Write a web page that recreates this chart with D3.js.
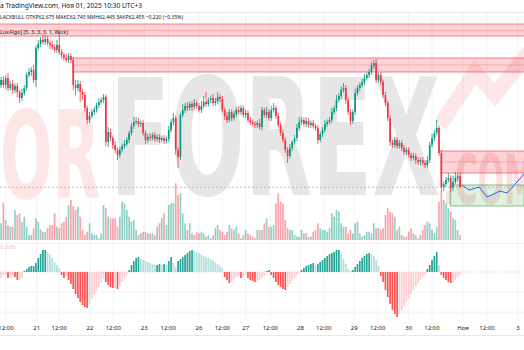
<!DOCTYPE html>
<html>
<head>
<meta charset="utf-8">
<script src="https://cdn.jsdelivr.net/npm/d3@7"></script>
<style>
body { margin: 0; background: #fff; }
svg text { font-family: "Noto Sans", Roboto, sans-serif; }
</style>
</head>
<body>
<div id="chart"></div>
<script>
// ---- data ----
var firstOpen = 64.50;
var close = [
 64.60,64.50,64.64,64.44,64.52,64.40,64.48,64.36,64.24,64.34,
 64.44,64.70,64.76,64.80,64.60,65.24,65.32,65.40,65.36,65.42,
 65.34,65.30,65.26,65.20,65.30,65.16,65.10,65.04,65.00,65.08,
 65.00,64.50,64.44,64.52,64.36,64.30,64.04,63.80,63.88,63.96,
 64.00,64.10,64.16,64.20,64.26,63.36,63.56,63.44,63.30,63.20,
 63.10,63.20,63.28,63.32,63.40,63.54,63.68,63.76,63.78,63.72,
 63.74,63.54,63.40,63.46,63.44,63.50,63.42,63.46,63.40,63.44,
 63.38,63.42,63.60,63.76,63.84,63.20,63.06,63.90,64.00,64.08,
 64.04,64.12,64.06,64.14,64.08,64.00,64.08,64.16,64.12,64.20,
 64.24,64.14,64.18,64.26,64.22,64.00,63.88,63.80,63.96,63.84,
 63.92,64.00,63.96,64.04,63.90,63.94,63.80,63.76,63.72,63.70,
 63.74,63.66,64.00,63.90,63.96,63.84,64.00,64.04,63.88,63.70,
 63.54,63.40,63.20,63.08,63.24,63.36,63.44,63.64,63.76,63.80,
 63.72,63.78,63.70,63.74,63.68,63.64,63.40,63.52,63.60,63.72,
 63.76,63.80,63.96,64.04,64.20,64.28,64.40,64.44,64.20,63.96,
 63.78,63.96,64.34,64.44,64.50,64.56,64.64,64.70,64.76,64.88,
 64.94,64.60,64.70,64.56,64.30,64.14,63.84,63.36,63.30,63.40,
 63.28,63.34,63.24,63.16,63.20,63.10,63.04,63.08,63.00,62.96,
 63.00,62.94,62.90,63.00,63.30,63.44,63.54,63.64,63.14,62.46,
 62.52,62.60,62.64,62.44,62.56,62.64,62.675,62.455
];
var wickUp = [
 .06,.08,.05,.10,.06,.08,.05,.06,.04,.08, .06,.05,.08,.06,.10,.05,.08,.06,.10,.08,
 .06,.05,.08,.06,.10,.26,.06,.05,.08,.06, .05,.06,.10,.08,.06,.05,.06,.05,.08,.06,
 .06,.05,.08,.05,.06,.05,.10,.06,.05,.08, .05,.06,.05,.08,.06,.05,.06,.10,.08,.06,
 .05,.06,.05,.06,.08,.05,.06,.05,.06,.05, .06,.05,.08,.06,.10,.05,.06,.05,.12,.06,
 .08,.05,.06,.08,.05,.06,.10,.12,.20,.06, .05,.08,.06,.10,.05,.06,.05,.08,.06,.05,
 .06,.05,.08,.06,.05,.06,.05,.06,.05,.06, .05,.08,.06,.05,.10,.06,.08,.10,.05,.06,
 .05,.06,.05,.06,.08,.05,.06,.08,.10,.06, .05,.08,.06,.05,.06,.05,.06,.05,.06,.08,
 .05,.06,.08,.05,.10,.06,.08,.10,.06,.05, .06,.05,.08,.06,.05,.06,.08,.05,.06,.08,
 .06,.08,.05,.06,.05,.06,.05,.06,.05,.06, .05,.06,.05,.06,.05,.06,.05,.06,.05,.06,
 .05,.06,.05,.08,.06,.08,.06,.16,.05,.06, .05,.06,.10,.06,.12,.12,.05,.07
];
var wickDn = [
 .06,.05,.08,.06,.05,.08,.06,.10,.10,.06, .05,.06,.05,.08,.06,.14,.05,.06,.05,.06,
 .05,.08,.06,.05,.06,.05,.08,.06,.05,.06, .06,.10,.15,.06,.20,.10,.06,.08,.06,.05,
 .06,.05,.06,.05,.06,.08,.10,.06,.08,.06, .10,.06,.05,.06,.05,.06,.05,.06,.05,.06,
 .06,.05,.08,.05,.06,.05,.06,.05,.06,.05, .06,.05,.06,.05,.06,.10,.22,.06,.05,.06,
 .06,.05,.08,.05,.06,.05,.06,.05,.06,.05, .06,.05,.06,.05,.06,.05,.08,.06,.05,.06,
 .05,.06,.05,.06,.05,.06,.05,.06,.05,.06, .06,.05,.06,.05,.06,.05,.06,.05,.06,.05,
 .06,.05,.06,.14,.05,.06,.05,.06,.05,.06, .05,.06,.05,.06,.05,.06,.08,.05,.06,.05,
 .06,.05,.06,.05,.06,.05,.06,.05,.08,.06, .08,.05,.06,.05,.06,.05,.06,.05,.06,.05,
 .05,.06,.05,.06,.05,.06,.06,.08,.06,.05, .06,.05,.06,.05,.06,.05,.06,.05,.08,.06,
 .06,.05,.06,.05,.06,.05,.06,.05,.06,.10, .08,.06,.05,.08,.06,.05,.06,.01
];
var volume = [
 167,373,200,150,133,133,300,250,267,183, 233,133,50,50,117,217,183,107,83,83,
 117,150,150,267,133,117,167,183,233,350, 400,340,300,333,233,100,50,83,167,67,
 50,50,17,67,350,317,233,217,217,217, 133,233,383,367,300,233,183,200,100,50,
 67,83,83,67,67,67,50,133,167,217, 267,150,350,367,367,567,450,467,267,167,
 100,167,67,50,83,67,83,67,33,50, 17,50,117,150,100,83,50,83,150,117,
 100,133,67,17,50,100,67,50,33,17, 100,100,
 100,167,217,133,133,150,367,467,383,367, 200,117,100,100,50,33,33,100,67,67,
 33,33,83,100,167,117,100,100,83,117, 267,233,300,283,167,133,133,67,100,67,
 167,183,67,33,50,83,83,67,167,117, 117,100,117,250,317,283,267,233,100,133,
 50,33,33,83,117,67,50,17,50,100, 150,183,167,100,67,133,383,483,400,367,
 317,283,217,200,100,50
];
var hist = [
 -1.2,-0.6,-0.6,-1.2,-1.2,-0.6,-1.0,-1.6,-1.6,-1.2,
 0.2,0.6,1.0,1.2,1.2,1.8,2.8,3.6,4.4,4.4,
 4.0,3.4,2.8,2.0,1.4,0.8,-0.6,-1.2,-0.8,-1.6,
 -2.4,-3.4,-4.4,-5.2,-6.0,-6.6,-7.0,-7.2,-6.4,-5.4,
 -4.6,-3.8,-3.0,-2.2,-1.4,-2.0,-2.6,-3.0,-3.2,-3.2,
 -3.4,-2.8,-2.0,-1.2,-0.6,0.4,1.4,2.2,2.8,3.0,
 2.6,2.4,2.2,2.0,1.8,1.6,1.4,1.4,1.6,1.4,
 1.6,1.4,2.2,3.0,1.8,1.0,2.2,2.6,3.0,3.4,
 3.8,4.2,4.4,4.2,4.0,3.8,3.5,3.2,3.0,2.8,
 2.5,2.2,1.9,1.6,1.2,0.8,-1.0,-1.6,-2.2,-2.0,
 -1.4,-1.0,-0.8,-1.2,-1.0,-0.6,-1.2,-1.6,-1.8,-2.0,
 -2.0,-1.6,-1.2,-0.8,0.2,0.4,-0.6,-1.2,-2.0,-2.6,
 -3.0,-3.4,-3.6,-3.0,-2.4,-1.8,-1.2,-0.6,-0.2,0.4,
 0.8,1.2,1.4,1.6,1.8,1.4,1.6,2.0,2.4,2.8,
 3.2,3.6,3.8,4.0,4.4,4.4,3.6,2.6,1.6,0.6,
 0.2,0.4,1.0,1.6,2.2,2.8,3.2,3.6,3.8,3.6,
 3.2,2.4,1.2,-0.8,-2.0,-3.6,-5.0,-6.4,-7.6,-8.4,
 -9.0,-8.4,-7.6,-6.8,-6.0,-5.2,-4.4,-3.6,-2.8,-2.2,
 -1.6,-1.0,-0.4,0.6,1.4,2.4,3.2,4.0,1.4,-0.6,
 -1.2,-1.6,-2.0,-2.2,-2.2,-1.6,-1.0,-0.6
];

// supply / demand zones (price top, bottom, middle line, first bar)
var zoneTop = [65.72, 65.04, 63.18];
var zoneBot = [65.48, 64.76, 62.74];
var zoneMid = [65.59, 64.90, 62.96];
var zoneStart = [-1, 30.5, 188.5];
var greenTop = 62.50, greenBot = 62.08, greenStart = 192.8;

// projection line
var fcIdx = [197.7, 201, 205.2, 208.6, 214.2, 217.2, 224.5];
var fcPrice = [62.50, 62.40, 62.46, 62.26, 62.38, 62.34, 62.72];

var lastPrice = 62.455;

var tickIdx = [2.1, 15.3, 25.0, 38.2, 48.2, 61.5, 71.8, 85.0, 95.0, 105.0, 115.6, 128.5, 138.5, 151.6, 161.7, 175.0, 185.0, 198.3, 208.6, 221.9];
var tickLabels = ["12:00","21","12:00","22","12:00","23","12:00","26","12:00","27","12:00","28","12:00","29","12:00","30","12:00","Ноя","12:00","3"];

var headerLine1 = "a TradingView.com, Ноя 01, 2025 10:30 UTC+3";
var headerLine2 = "LACKBULL  ОТКР62,675  МАКС62,745  МИН62,445  ЗАКР62,455  −0,220 (−0,35%)";
var indicatorLabel = "LuxAlgo] (5, 3, 3, 3, 1, Wick)";

// ---- drawing ----
var W = 524, H = 350;
var upCol = "#089981", dnCol = "#f23645";

var svg = d3.select("#chart").append("svg")
    .attr("width", W)
    .attr("height", H);

svg.append("rect").attr("width", W).attr("height", H).attr("fill", "#fff");

var x = d3.scaleLinear().domain([0, 197]).range([1, 460]);
var y = d3.scaleLinear().domain([61.4, 66.2]).range([240, 0]);
var yv = d3.scaleLinear().domain([0, 600]).range([240, 180]);
var yh = d3.scaleLinear().domain([-10, 6]).range([322, 242]);

var bars = close.map(function(c, i) {
    var o = i == 0 ? firstOpen : close[i - 1];
    return {
        i: i, o: o, c: c,
        h: Math.max(o, c) + wickUp[i],
        l: Math.min(o, c) - wickDn[i],
        v: volume[i],
        m: hist[i],
        mp: i == 0 ? hist[0] : hist[i - 1]
    };
});

// grid
var grid = svg.append("g");
grid.selectAll("line.v")
    .data(tickIdx)
    .enter().append("line")
    .attr("x1", function(d) { return x(d); })
    .attr("x2", function(d) { return x(d); })
    .attr("y1", 12).attr("y2", 321)
    .attr("stroke", "#f1f2f4").attr("stroke-width", 1);
grid.selectAll("line.h")
    .data([-4, -8])
    .enter().append("line")
    .attr("x1", 0).attr("x2", W)
    .attr("y1", function(d) { return yh(d); })
    .attr("y2", function(d) { return yh(d); })
    .attr("stroke", "#f1f2f4");
svg.append("line").attr("x1", 0).attr("x2", W).attr("y1", 12.5).attr("y2", 12.5).attr("stroke", "#e6e8ee");
svg.append("line").attr("x1", 0).attr("x2", W).attr("y1", 243.5).attr("y2", 243.5).attr("stroke", "#f0f1f4");
svg.append("line").attr("x1", 0).attr("x2", W).attr("y1", 335.5).attr("y2", 335.5).attr("stroke", "#e6e8ee");

// watermark
var wm = svg.append("g");
wm.append("text")
    .attr("x", 110).attr("y", 195)
    .attr("textLength", 330).attr("lengthAdjust", "spacingAndGlyphs")
    .style("font-family", "'Liberation Sans Narrow','DejaVu Sans Condensed',sans-serif")
    .style("font-weight", "bold").style("font-size", "163px")
    .attr("fill", "#e6e6e6")
    .text("FOREX");
wm.append("text")
    .attr("x", 0).attr("y", 198)
    .attr("textLength", 100).attr("lengthAdjust", "spacingAndGlyphs")
    .style("font-family", "'Liberation Sans Narrow','DejaVu Sans Condensed',sans-serif")
    .style("font-weight", "bold").style("font-size", "121px")
    .attr("fill", "#fde6e6")
    .text("OR");
wm.append("text")
    .attr("x", 443).attr("y", 204)
    .attr("textLength", 92).attr("lengthAdjust", "spacingAndGlyphs")
    .style("font-family", "'Liberation Sans Narrow','DejaVu Sans Condensed',sans-serif")
    .style("font-weight", "bold").style("font-size", "70px")
    .attr("fill", "rgba(242,54,69,0.16)")
    .text(".COM");
wm.append("polyline")
    .attr("points", "440,125 475,72 495,95 532,48")
    .attr("fill", "none")
    .attr("stroke", "rgba(242,54,69,0.12)")
    .attr("stroke-width", 15)
    .attr("stroke-linejoin", "miter");

// zones
var zones = svg.append("g");
zoneTop.forEach(function(t, k) {
    var x0 = x(zoneStart[k]);
    zones.append("rect")
        .attr("x", x0).attr("y", y(t))
        .attr("width", W - x0).attr("height", y(zoneBot[k]) - y(t))
        .attr("fill", "rgba(242,54,69,0.22)");
    [t, zoneBot[k]].forEach(function(p) {
        zones.append("line")
            .attr("x1", x0).attr("x2", W)
            .attr("y1", y(p)).attr("y2", y(p))
            .attr("stroke", "rgba(242,54,69,0.6)").attr("stroke-width", 1);
    });
    zones.append("line")
        .attr("x1", x0).attr("x2", W)
        .attr("y1", y(zoneMid[k])).attr("y2", y(zoneMid[k]))
        .attr("stroke", "rgba(242,54,69,0.25)").attr("stroke-width", 1);
});
var gx = x(greenStart);
zones.append("rect")
    .attr("x", gx).attr("y", y(greenTop))
    .attr("width", W - gx).attr("height", y(greenBot) - y(greenTop))
    .attr("fill", "rgba(76,175,80,0.18)")
    .attr("stroke", "rgba(76,175,80,0.7)").attr("stroke-width", 1);

// volume
svg.append("g").selectAll("rect")
    .data(bars)
    .enter().append("rect")
    .attr("x", function(d) { return x(d.i) - 0.85; })
    .attr("width", 1.7)
    .attr("y", function(d) { return yv(d.v); })
    .attr("height", function(d) { return 240 - yv(d.v); })
    .attr("fill", function(d) { return d.c >= d.o ? "rgba(8,153,129,0.45)" : "rgba(242,54,69,0.45)"; });

// last price line
svg.append("line")
    .attr("x1", 0).attr("x2", W)
    .attr("y1", y(lastPrice)).attr("y2", y(lastPrice))
    .attr("stroke", "#f5a3a9").attr("stroke-dasharray", "2,2");

// candles
var cg = svg.append("g").selectAll("g")
    .data(bars)
    .enter().append("g");
cg.append("line")
    .attr("x1", function(d) { return x(d.i); })
    .attr("x2", function(d) { return x(d.i); })
    .attr("y1", function(d) { return y(d.h); })
    .attr("y2", function(d) { return y(d.l); })
    .attr("stroke", function(d) { return d.c >= d.o ? upCol : dnCol; })
    .attr("stroke-width", 0.8);
cg.append("rect")
    .attr("x", function(d) { return x(d.i) - 0.85; })
    .attr("width", 1.7)
    .attr("y", function(d) { return y(Math.max(d.o, d.c)); })
    .attr("height", function(d) { return Math.max(0.8, Math.abs(y(d.o) - y(d.c))); })
    .attr("fill", function(d) { return d.c >= d.o ? upCol : dnCol; });

// projection
svg.append("path")
    .datum(fcIdx.map(function(d, i) { return [d, fcPrice[i]]; }))
    .attr("d", d3.line().x(function(d) { return x(d[0]); }).y(function(d) { return y(d[1]); }))
    .attr("fill", "none")
    .attr("stroke", "#2962ff").attr("stroke-width", 1);

// histogram
svg.append("line")
    .attr("x1", 0).attr("x2", W)
    .attr("y1", yh(0)).attr("y2", yh(0))
    .attr("stroke", "#c9ccd3").attr("stroke-dasharray", "1,2");
svg.append("g").selectAll("rect")
    .data(bars)
    .enter().append("rect")
    .attr("x", function(d) { return x(d.i) - 0.85; })
    .attr("width", 1.7)
    .attr("y", function(d) { return Math.min(yh(0), yh(d.m)); })
    .attr("height", function(d) { return Math.abs(yh(d.m) - yh(0)); })
    .attr("fill", function(d) {
        if (d.m >= 0) return d.m >= d.mp ? "#26a69a" : "#b2dfdb";
        return d.m < d.mp ? "#ff5252" : "#ffcdd2";
    });
svg.append("text")
    .attr("x", 0).attr("y", yh(5) + 2)
    .style("font-size", "6px")
    .attr("fill", "#f7b4ba")
    .text("0,005");

// time axis
svg.append("g").selectAll("text")
    .data(tickIdx)
    .enter().append("text")
    .attr("x", function(d) { return x(d); })
    .attr("y", 330)
    .attr("text-anchor", "middle")
    .style("font-size", "6px")
    .attr("fill", "#131722")
    .text(function(d, i) { return tickLabels[i]; });

// header texts
svg.append("text")
    .attr("x", 0).attr("y", 7.5)
    .attr("textLength", 142).attr("lengthAdjust", "spacingAndGlyphs")
    .style("font-size", "6.5px").attr("fill", "#131722")
    .text(headerLine1);
svg.append("text")
    .attr("x", 0).attr("y", 18.5)
    .attr("textLength", 183).attr("lengthAdjust", "spacingAndGlyphs")
    .style("font-size", "6px").attr("fill", "#131722")
    .text(headerLine2);
svg.append("text")
    .attr("x", 0).attr("y", 34)
    .attr("textLength", 68).attr("lengthAdjust", "spacingAndGlyphs")
    .style("font-size", "6px").attr("fill", "#131722")
    .text(indicatorLabel);
</script>
</body>
</html>
